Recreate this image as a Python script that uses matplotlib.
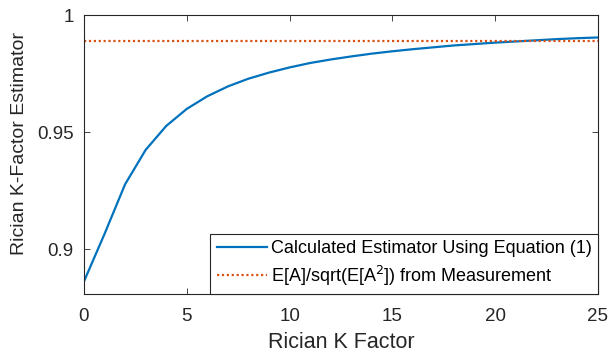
import numpy as np
import matplotlib.pyplot as plt

plt.rcParams['font.family'] = ['Liberation Sans', 'DejaVu Sans']

# Rician K factor and the estimator E[A]/sqrt(E[A^2]) for each K
k_factor = list(range(0, 26))
estimator = [0.8862, 0.9065, 0.9277, 0.9424, 0.9526, 0.9599, 0.9653, 0.9695,
             0.9728, 0.9754, 0.9776, 0.9795, 0.9810, 0.9823, 0.9835, 0.9845,
             0.9854, 0.9862, 0.9870, 0.9876, 0.9882, 0.9887, 0.9892, 0.9897,
             0.9901, 0.9904]
measured = 0.9891

blue = '#0072BD'
orange = '#D95319'
axcol = '#262626'

fig = plt.figure(figsize=(6.1, 3.6), dpi=100)
ax = fig.add_axes([0.1377, 0.1833, 0.8426, 0.775])

ax.plot(k_factor, estimator, color=blue, lw=1.6,
        label='Calculated Estimator Using Equation (1)')
ax.axhline(measured, color=orange, lw=1.6, ls=(0, (1, 1.2)),
           label='E[A]/sqrt(E[A$^2$]) from Measurement')

ax.set_xlim(0, 25)
ax.set_ylim(0.8808, 1.0)
ax.set_xticks([0, 5, 10, 15, 20, 25])
ax.set_yticks([0.9, 0.95, 1.0])
ax.set_yticklabels(['0.9', '0.95', '1'])
ax.tick_params(direction='in', length=4, width=0.6, colors=axcol,
               labelsize=13.5, top=True, right=True, pad=7.5)
ax.tick_params(axis='x', pad=10)
for s in ax.spines.values():
    s.set_color(axcol)
    s.set_linewidth(0.8)

ax.set_xlabel('Rician K Factor', fontsize=15.5, color=axcol, labelpad=5)
ax.set_ylabel('Rician K-Factor Estimator', fontsize=14, color=axcol)
ax.yaxis.set_label_coords(-0.108, 0.54)

leg = ax.legend(loc='lower right', fontsize=13, frameon=True, fancybox=False,
                edgecolor=axcol, framealpha=1, borderaxespad=0.0,
                handlelength=2.8, handletextpad=0.2, borderpad=0.35,
                labelspacing=0.35)
leg.get_frame().set_linewidth(0.8)
for t in leg.get_texts():
    t.set_color('black')

fig.savefig('out.png', dpi=100)
